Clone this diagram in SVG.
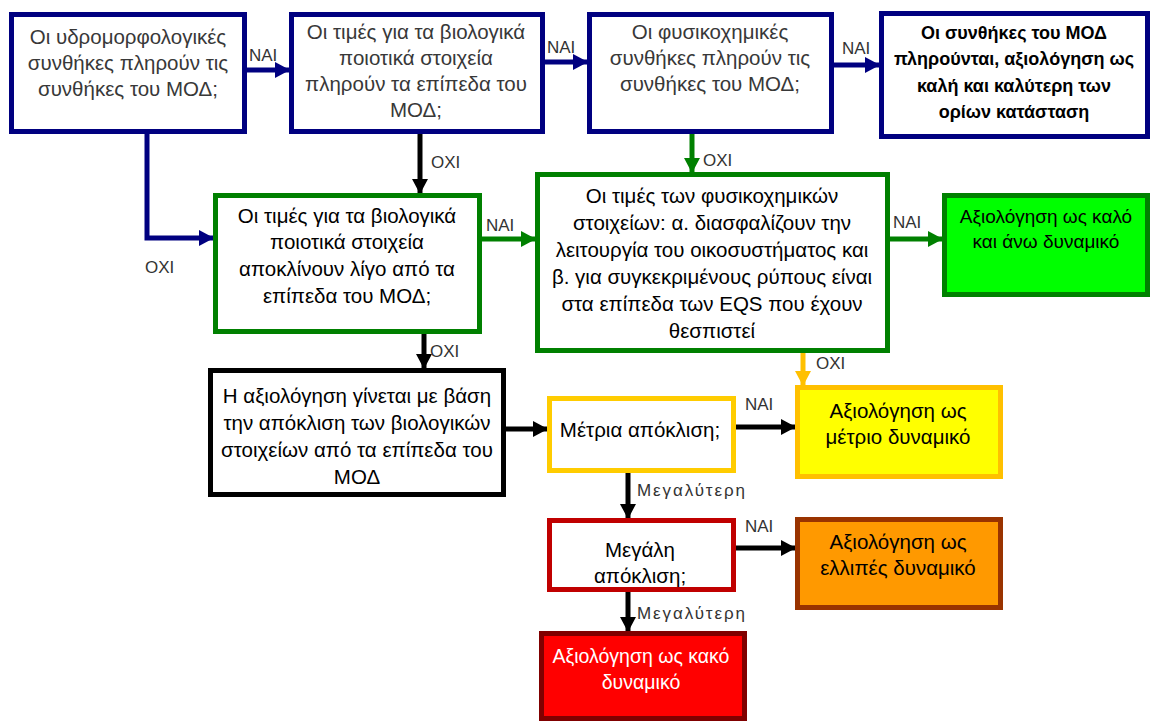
<svg xmlns="http://www.w3.org/2000/svg" width="1153" height="722" viewBox="0 0 1153 722">
<style>
.box{stroke-width:5}
.lt{font-family:"Liberation Sans",Arial,sans-serif;font-size:20.5px;fill:#383838;text-anchor:middle}
.rg{font-family:"Liberation Sans",Arial,sans-serif;font-size:20.5px;fill:#000;text-anchor:middle}
.bd{font-family:"Liberation Sans",Arial,sans-serif;font-size:18px;font-weight:bold;fill:#000;text-anchor:middle}
.lbl{font-family:"Liberation Sans",Arial,sans-serif;font-size:17px;fill:#333}
.c{fill:none;stroke-width:5}
</style>
<defs>
<marker id="aN" markerUnits="userSpaceOnUse" markerWidth="15" markerHeight="16" refX="14" refY="8" orient="auto"><path d="M0,0 L15,8 L0,16 z" fill="#000080"/></marker>
<marker id="aK" markerUnits="userSpaceOnUse" markerWidth="15" markerHeight="16" refX="14" refY="8" orient="auto"><path d="M0,0 L15,8 L0,16 z" fill="#000"/></marker>
<marker id="aG" markerUnits="userSpaceOnUse" markerWidth="15" markerHeight="16" refX="14" refY="8" orient="auto"><path d="M0,0 L15,8 L0,16 z" fill="#008000"/></marker>
<marker id="aY" markerUnits="userSpaceOnUse" markerWidth="15" markerHeight="16" refX="14" refY="8" orient="auto"><path d="M0,0 L15,8 L0,16 z" fill="#ffc000"/></marker>
</defs>
<rect width="1153" height="722" fill="#fff"/>

<g id="connectors">
<path class="c" d="M246,70 H289" stroke="#000080" marker-end="url(#aN)"/>
<path class="c" d="M544,62 H587" stroke="#000080" marker-end="url(#aN)"/>
<path class="c" d="M833,65 H879" stroke="#000080" marker-end="url(#aN)"/>
<path class="c" d="M147,133 V238 H213" stroke="#000080" marker-end="url(#aN)"/>
<path class="c" d="M420,133 V193" stroke="#000" marker-end="url(#aK)"/>
<path class="c" d="M692,133 V172" stroke="#008000" marker-end="url(#aG)"/>
<path class="c" d="M481,239 H535" stroke="#008000" marker-end="url(#aG)"/>
<path class="c" d="M889,239 H942" stroke="#008000" marker-end="url(#aG)"/>
<path class="c" d="M424,333 V368" stroke="#000" marker-end="url(#aK)"/>
<path class="c" d="M803,352 V385" stroke="#ffc000" marker-end="url(#aY)"/>
<path class="c" d="M505,429 H547" stroke="#000" marker-end="url(#aK)"/>
<path class="c" d="M735,427 H795" stroke="#000" marker-end="url(#aK)"/>
<path class="c" d="M628,472 V518" stroke="#000" marker-end="url(#aK)"/>
<path class="c" d="M735,548 H795" stroke="#000" marker-end="url(#aK)"/>
<path class="c" d="M628,591 V631" stroke="#000" marker-end="url(#aK)"/>
<text class="lbl" x="249" y="61">ΝΑΙ</text>
<text class="lbl" x="547" y="53">ΝΑΙ</text>
<text class="lbl" x="842" y="54">ΝΑΙ</text>
<text class="lbl" x="145" y="273">ΟΧΙ</text>
<text class="lbl" x="431" y="168">ΟΧΙ</text>
<text class="lbl" x="703" y="166">ΟΧΙ</text>
<text class="lbl" x="486" y="231">ΝΑΙ</text>
<text class="lbl" x="893" y="228">ΝΑΙ</text>
<text class="lbl" x="430" y="357">ΟΧΙ</text>
<text class="lbl" x="816" y="369">ΟΧΙ</text>
<text class="lbl" x="745" y="410">ΝΑΙ</text>
<text class="lbl" x="637" y="496" textLength="108" lengthAdjust="spacing">Μεγαλύτερη</text>
<text class="lbl" x="745" y="532">ΝΑΙ</text>
<text class="lbl" x="637" y="619" textLength="108" lengthAdjust="spacing">Μεγαλύτερη</text>
</g>

<g id="n1">
<rect class="box" x="11.5" y="14.5" width="233" height="117" fill="#fff" stroke="#000080"/>
<text class="lt" x="128" y="44">Οι υδρομορφολογικές</text>
<text class="lt" x="128" y="70">συνθήκες πληρούν τις</text>
<text class="lt" x="128" y="96">συνθήκες του ΜΟΔ;</text>
</g>
<g id="n2">
<rect class="box" x="291.5" y="14.5" width="251" height="117" fill="#fff" stroke="#000080"/>
<text class="lt" x="416" y="39">Οι τιμές για τα βιολογικά</text>
<text class="lt" x="416" y="65">ποιοτικά στοιχεία</text>
<text class="lt" x="416" y="91">πληρούν τα επίπεδα του</text>
<text class="lt" x="416" y="117">ΜΟΔ;</text>
</g>
<g id="n3">
<rect class="box" x="589.5" y="14.5" width="242" height="117" fill="#fff" stroke="#000080"/>
<text class="lt" x="710" y="39">Οι φυσικοχημικές</text>
<text class="lt" x="710" y="65">συνθήκες πληρούν τις</text>
<text class="lt" x="710" y="91">συνθήκες του ΜΟΔ;</text>
</g>
<g id="n4">
<rect class="box" x="881.5" y="13.5" width="266" height="123" fill="#fff" stroke="#000080"/>
<text class="bd" x="1014" y="39">Οι συνθήκες του ΜΟΔ</text>
<text class="bd" x="1014" y="65">πληρούνται, αξιολόγηση ως</text>
<text class="bd" x="1014" y="92">καλή και καλύτερη των</text>
<text class="bd" x="1014" y="118">ορίων κατάσταση</text>
</g>
<g id="n5">
<rect class="box" x="215.5" y="195.5" width="264" height="136" fill="#fff" stroke="#008000"/>
<text class="rg" x="347" y="223">Οι τιμές για τα βιολογικά</text>
<text class="rg" x="347" y="249">ποιοτικά στοιχεία</text>
<text class="rg" x="347" y="276">αποκλίνουν λίγο από τα</text>
<text class="rg" x="347" y="303">επίπεδα του ΜΟΔ;</text>
</g>
<g id="n6">
<rect class="box" x="537.5" y="174.5" width="350" height="176" fill="#fff" stroke="#008000"/>
<text class="rg" x="712" y="203">Οι τιμές των φυσικοχημικών</text>
<text class="rg" x="712" y="230">στοιχείων: α. διασφαλίζουν την</text>
<text class="rg" x="712" y="257">λειτουργία του οικοσυστήματος και</text>
<text class="rg" x="712" y="284">β. για συγκεκριμένους ρύπους είναι</text>
<text class="rg" x="712" y="311">στα επίπεδα των EQS που έχουν</text>
<text class="rg" x="712" y="338">θεσπιστεί</text>
</g>
<g id="n7">
<rect class="box" x="944.5" y="195.5" width="203" height="99" fill="#00ff00" stroke="#008000"/>
<text class="rg" x="1046" y="223" style="font-size:19px">Αξιολόγηση ως καλό</text>
<text class="rg" x="1046" y="248" style="font-size:19px">και άνω δυναμικό</text>
</g>
<g id="n8">
<rect class="box" x="210.5" y="370.5" width="293" height="124" fill="#fff" stroke="#000"/>
<text class="rg" x="357" y="403">Η αξιολόγηση γίνεται με βάση</text>
<text class="rg" x="357" y="430">την απόκλιση των βιολογικών</text>
<text class="rg" x="357" y="457">στοιχείων από τα επίπεδα του</text>
<text class="rg" x="357" y="484">ΜΟΔ</text>
</g>
<g id="n9">
<rect class="box" x="549.5" y="398.5" width="184" height="72" fill="#fff" stroke="#ffcc00"/>
<text class="rg" x="640" y="437">Μέτρια απόκλιση;</text>
</g>
<g id="n10">
<rect class="box" x="797.5" y="387.5" width="203" height="89" fill="#ffff00" stroke="#ffc000"/>
<text class="rg" x="898" y="418">Αξιολόγηση ως</text>
<text class="rg" x="898" y="444">μέτριο δυναμικό</text>
</g>
<g id="n11">
<rect class="box" x="549.5" y="520.5" width="184" height="69" fill="#fff" stroke="#c00000"/>
<text class="rg" x="640" y="557">Μεγάλη</text>
<text class="rg" x="640" y="583">απόκλιση;</text>
</g>
<g id="n12">
<rect class="box" x="797.5" y="519.5" width="203" height="88" fill="#ff9900" stroke="#993300"/>
<text class="rg" x="898" y="549">Αξιολόγηση ως</text>
<text class="rg" x="898" y="575">ελλιπές δυναμικό</text>
</g>
<g id="n13">
<rect class="box" x="541.5" y="633.5" width="203" height="85" fill="#ff0000" stroke="#800000"/>
<text class="rg" x="641" y="663" style="fill:#fff;font-size:19.5px">Αξιολόγηση ως κακό</text>
<text class="rg" x="641" y="689" style="fill:#fff;font-size:19.5px">δυναμικό</text>
</g>
</svg>
